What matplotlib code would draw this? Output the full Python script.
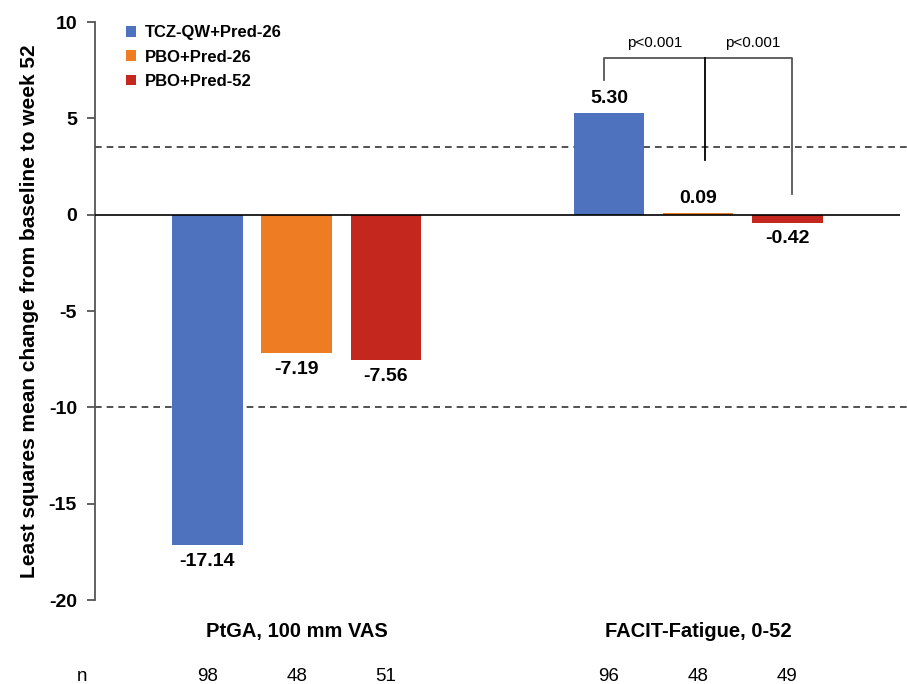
import matplotlib.pyplot as plt

plt.rcParams['font.family'] = ['Liberation Sans', 'DejaVu Sans']

# Change from baseline to week 52, per outcome and treatment arm
arms = ['TCZ-QW+Pred-26', 'PBO+Pred-26', 'PBO+Pred-52']
outcomes = ['PtGA, 100 mm VAS', 'FACIT-Fatigue, 0-52']
ptga = [-17.14, -7.19, -7.56]
facit = [5.30, 0.09, -0.42]
n_ptga = [98, 48, 51]
n_facit = [96, 48, 49]
mcid_lines = [3.5, -10]
p_labels = ['p<0.001', 'p<0.001']

colors = ['#4F72BE', '#EE7C22', '#C4271E']

fig = plt.figure(figsize=(9.07, 6.84), dpi=100)
ax = fig.add_axes([0.1047, 0.1228, 0.8873, 0.845])

group_x = [0, 4.5]
width = 0.79
for g, (vals, ns) in enumerate([(ptga, n_ptga), (facit, n_facit)]):
    for i, v in enumerate(vals):
        x = group_x[g] + i
        ax.bar(x, v, width=width, color=colors[i], zorder=2,
               label=arms[i] if g == 0 else None)
        if v >= 0:
            ax.text(x, v + 0.3, f'{v:.2f}', ha='center', va='bottom',
                    fontsize=14, fontweight='bold')
        else:
            ax.text(x, v - 0.4, f'{v:.2f}', ha='center', va='top',
                    fontsize=14, fontweight='bold')
        ax.text(x, -0.133, str(ns[i]), transform=ax.get_xaxis_transform(),
                ha='center', va='center', fontsize=13.5, clip_on=False)
    ax.text(group_x[g] + 1, -0.055, outcomes[g], transform=ax.get_xaxis_transform(),
            ha='center', va='center', fontsize=14.5, fontweight='bold', clip_on=False)

ax.text(-1.41, -0.133, 'n', transform=ax.get_xaxis_transform(),
        ha='center', va='center', fontsize=13.5, clip_on=False)

# zero line and dashed reference lines
ax.axhline(0, color='black', lw=1.2, zorder=3)
for y in mcid_lines:
    ax.plot([-1.26, 7.9], [y, y], ls=(0, (4, 3)), color='#333333', lw=1.2,
            clip_on=False, zorder=1)

# significance brackets for the FACIT group
bx = [group_x[1] - 0.05, group_x[1] + 1.08, group_x[1] + 2.05]
top = 8.15
ax.plot([bx[0], bx[0], bx[2], bx[2]], [7.0, top, top, 1.05], color='#555555', lw=1.3, zorder=3)
ax.plot([bx[1], bx[1]], [top, 2.85], color='black', lw=1.3, zorder=3)
ax.text((bx[0] + bx[1]) / 2, 8.55, p_labels[0], ha='center', va='bottom', fontsize=11)
ax.text((bx[1] + bx[2]) / 2 + 0.05, 8.55, p_labels[1], ha='center', va='bottom', fontsize=11)

ax.set_xlim(-1.26, 7.76)
ax.set_ylim(-20, 10)
ax.set_yticks(range(-20, 11, 5))
ax.set_yticklabels([str(t) for t in range(-20, 11, 5)], fontsize=14, fontweight='bold')
ax.set_xticks([])
for s in ['top', 'right', 'bottom']:
    ax.spines[s].set_visible(False)
ax.spines['left'].set_color('#555555')
ax.spines['left'].set_linewidth(1.3)
ax.tick_params(axis='y', length=6, width=1.3, color='#555555', pad=7)
ax.set_ylabel('Least squares mean change from baseline to week 52', fontsize=15,
              fontweight='bold', labelpad=7)

leg = ax.legend(loc='upper left', bbox_to_anchor=(0.02, 1.02), frameon=False,
                handlelength=0.6, handleheight=0.6, handletextpad=0.55,
                labelspacing=0.55, prop={'weight': 'bold', 'size': 12})

fig.savefig('out.png', dpi=100)
